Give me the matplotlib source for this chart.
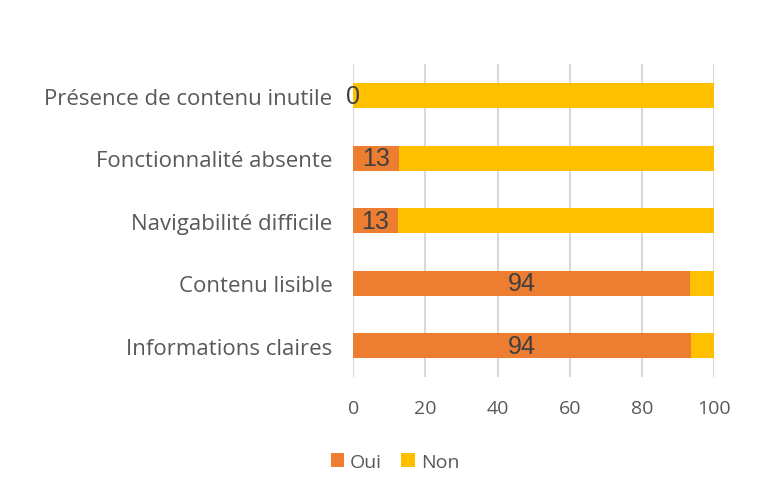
import matplotlib.pyplot as plt

categories = ["Informations claires", "Contenu lisible", "Navigabilité difficile",
              "Fonctionnalité absente", "Présence de contenu inutile"]
oui = [93.7, 93.4, 12.3, 12.6, 0]
non = [6.3, 6.6, 87.7, 87.4, 100]
oui_labels = ["94", "94", "13", "13", "0"]
xticks = [0, 20, 40, 60, 80, 100]

plt.rcParams['font.family'] = ['Open Sans', 'DejaVu Sans']

fig = plt.figure(figsize=(7.58, 5.02), dpi=100)
ax = fig.add_axes([0.466, 0.247, 0.476, 0.623])

ypos = range(len(categories))
b1 = ax.barh(ypos, oui, height=0.4, color='#ED7D31', label='Oui', zorder=3)
ax.barh(ypos, non, left=oui, height=0.4, color='#FFC000', label='Non', zorder=3)

for rect, txt in zip(b1, oui_labels):
    ax.text(rect.get_x() + rect.get_width() / 2, rect.get_y() + rect.get_height() / 2,
            txt, ha='center', va='center', fontsize=18, color='#404040', zorder=4,
            family='Liberation Sans')

ax.set_xlim(0, 100)
ax.set_ylim(-0.5, 4.5)
ax.set_xticks(xticks)
ax.set_yticks(list(ypos))
ax.set_yticklabels(categories, fontsize=16)
ax.tick_params(axis='both', length=0, colors='#595959')
ax.tick_params(axis='x', labelsize=14, pad=16)
ax.tick_params(axis='y', pad=15)
ax.grid(axis='x', color='#D9D9D9', linewidth=1.5, zorder=0)
for s in ax.spines.values():
    s.set_visible(False)

ax.legend(loc='center', bbox_to_anchor=(0.5 * (330 + 460) / 758, 1 - 463 / 502),
          bbox_transform=fig.transFigure, ncol=2, frameon=False, fontsize=14,
          handlelength=0.7, handleheight=0.7, handletextpad=0.3, columnspacing=1.0,
          labelcolor='#595959')

fig.savefig('out.png', dpi=100)
